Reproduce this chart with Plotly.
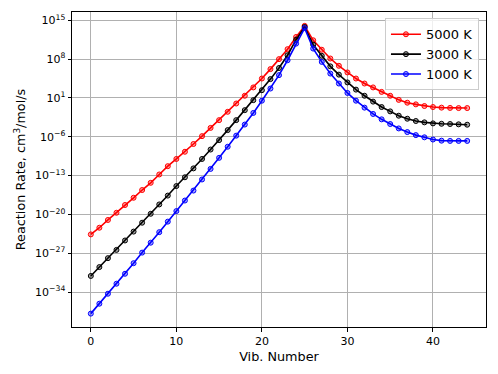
import plotly.graph_objects as go

# vibrational level index
vib_number = list(range(45))

# reaction rates, cm^3/mol/s
rate_5000K = [
    2.5e-24, 4.0e-23, 1.0e-21, 2.0e-20, 5.0e-19, 1.0e-17, 2.5e-16, 5.0e-15,
    1.6e-13, 5.0e-12, 1.0e-10, 2.0e-9, 5.0e-8, 1.3e-6, 4.0e-5, 1.0e-3,
    3.2e-2, 1.0, 25, 800, 3.2e4, 1.6e6, 1.0e8, 6.3e9, 1.0e12, 1.0e14,
    2.5e11, 5.0e9, 1.3e8, 6.3e6, 4.0e5, 3.2e4, 4.0e3, 800, 125, 25,
    4.5, 1.4, 0.7, 0.35, 0.23, 0.18, 0.16, 0.15, 0.15,
]
rate_3000K = [
    8.0e-32, 3.2e-30, 1.3e-28, 4.0e-27, 2.0e-25, 8.0e-24, 3.2e-22, 1.3e-20,
    6.3e-19, 2.5e-17, 1.3e-15, 5.0e-14, 2.0e-12, 1.0e-10, 5.0e-9, 2.5e-7,
    1.6e-5, 1.0e-3, 6.3e-2, 4.0, 250, 2.5e4, 2.5e6, 5.0e8, 3.2e11, 6.3e13,
    4.0e10, 4.0e8, 5.0e6, 1.6e5, 6.3e3, 320, 25, 2.2, 0.23, 0.038,
    6.3e-3, 1.8e-3, 7.0e-4, 4.0e-4, 2.6e-4, 2.2e-4, 2.0e-4, 1.75e-4, 1.5e-4,
]
rate_1000K = [
    1.3e-38, 8.0e-37, 5.0e-35, 3.2e-33, 2.0e-31, 1.6e-29, 1.3e-27, 8.0e-26,
    6.3e-24, 5.0e-22, 4.0e-20, 3.2e-18, 2.0e-16, 2.0e-14, 1.6e-12, 1.6e-10,
    1.6e-8, 1.6e-6, 1.6e-4, 2.0e-2, 3.2, 500, 1.3e5, 6.3e7, 6.3e10, 4.0e13,
    8.0e9, 3.2e7, 2.5e5, 4.0e3, 80, 3.2, 0.18, 1.3e-2, 1.4e-3, 2.0e-4,
    3.2e-5, 7.0e-6, 2.0e-6, 8.0e-7, 3.2e-7, 2.0e-7, 1.8e-7, 1.8e-7, 1.8e-7,
]

series = [
    ("5000 K", rate_5000K, "red", "rgba(255,0,0,0.35)"),
    ("3000 K", rate_3000K, "black", "rgba(0,0,0,0.35)"),
    ("1000 K", rate_1000K, "blue", "rgba(0,0,255,0.35)"),
]

y_exponents = [15, 8, 1, -6, -13, -20, -27, -34]
y_tickvals = [10.0 ** e for e in y_exponents]
y_ticktext = [f"10<sup>{str(e).replace('-', '−')}</sup>" for e in y_exponents]

fig = go.Figure()
for name, rates, color, fill in series:
    fig.add_trace(
        go.Scatter(
            x=vib_number,
            y=rates,
            name=name,
            mode="lines+markers",
            line=dict(color=color, width=1.6),
            marker=dict(symbol="circle", size=5, color=fill, line=dict(color=color, width=1)),
        )
    )

axis_style = dict(
    showline=True,
    linecolor="black",
    linewidth=1,
    mirror=True,
    ticks="outside",
    ticklen=3.5,
    tickcolor="black",
    showgrid=True,
    gridcolor="#b0b0b0",
    gridwidth=0.8,
    zeroline=False,
    automargin=False,
    tickfont=dict(size=11, color="black"),
)

# page body keeps its default 8px margin, so the figure is 8px smaller on each side
fig.update_layout(
    width=490,
    height=366,
    margin=dict(l=64, r=12, t=4, b=47),
    paper_bgcolor="white",
    plot_bgcolor="white",
    font=dict(family="DejaVu Sans", color="black"),
    legend=dict(
        x=0.983,
        y=0.98,
        xanchor="right",
        yanchor="top",
        bgcolor="rgba(255,255,255,0.8)",
        bordercolor="#cccccc",
        borderwidth=1,
        font=dict(size=13),
    ),
    xaxis=dict(
        range=[-2.2, 46.2],
        tickvals=[0, 10, 20, 30, 40],
        title=dict(text="Vib. Number", font=dict(size=12.8), standoff=5),
        **axis_style,
    ),
    yaxis=dict(
        type="log",
        range=[-40.3, 16.5],
        tickvals=y_tickvals,
        ticktext=y_ticktext,
        title=dict(text="Reaction Rate, cm<sup>3</sup>/mol/s", font=dict(size=12.8), standoff=6),
        **axis_style,
    ),
)

fig.write_html("out.html")
